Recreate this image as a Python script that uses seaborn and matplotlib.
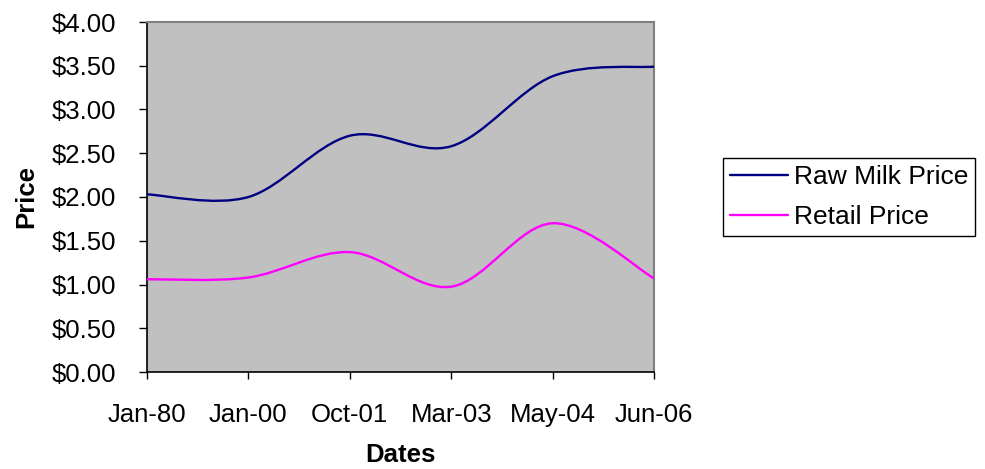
import matplotlib
matplotlib.use("Agg")
import matplotlib.pyplot as plt
from matplotlib.path import Path
from matplotlib.patches import PathPatch
from matplotlib.lines import Line2D
import seaborn as sns
import numpy as np
import pandas as pd

dates = ["Jan-80", "Jan-00", "Oct-01", "Mar-03", "May-04", "Jun-06"]
raw_milk = [2.03, 2.00, 2.70, 2.58, 3.38, 3.49]
retail = [1.06, 1.08, 1.37, 0.975, 1.70, 1.07]
series_names = ["Raw Milk Price", "Retail Price"]
colors = ["#000080", "#FF00FF"]

df = pd.DataFrame({
    "Dates": dates * 2,
    "Price": raw_milk + retail,
    "Series": [series_names[0]] * len(dates) + [series_names[1]] * len(dates),
})

sns.set_style("white")
plt.rcParams["font.family"] = ["Liberation Sans", "DejaVu Sans"]
plt.rcParams["text.color"] = "black"
plt.rcParams["axes.labelcolor"] = "black"
plt.rcParams["xtick.color"] = "black"
plt.rcParams["ytick.color"] = "black"


def smooth_path(xy):
    # Excel-like smoothed line: Catmull-Rom segments as cubic Beziers
    pts = np.vstack([xy[0], xy, xy[-1]])
    verts = [tuple(xy[0])]
    codes = [Path.MOVETO]
    for i in range(1, len(pts) - 2):
        p0, p1, p2, p3 = pts[i - 1], pts[i], pts[i + 1], pts[i + 2]
        c1 = p1 + (p2 - p0) / 6
        c2 = p2 - (p3 - p1) / 6
        verts += [tuple(c1), tuple(c2), tuple(p2)]
        codes += [Path.CURVE4] * 3
    return Path(verts, codes)


fig = plt.figure(figsize=(9.85, 4.69), dpi=100)
ax = fig.add_axes([147 / 985, 1 - 372 / 469, (654 - 147) / 985, 350 / 469])
ax.set_facecolor("#C0C0C0")

sns.lineplot(data=df, x="Dates", y="Price", hue="Series", palette=colors,
             sort=False, legend=False, ax=ax)

for line, c in zip(ax.get_lines(), colors):
    xy = line.get_xydata()
    ax.add_patch(PathPatch(smooth_path(xy), facecolor="none", edgecolor=c,
                           linewidth=1.7, zorder=3))
    line.set_visible(False)

ax.set_xlim(0, len(dates) - 1)
ax.set_ylim(0, 4)
ax.set_yticks(np.arange(0, 4.01, 0.5))
ax.set_yticklabels([f"${v:.2f}" for v in np.arange(0, 4.01, 0.5)])
ax.tick_params(axis="y", direction="out", length=6, width=1, pad=16,
               labelsize=18.5, left=True)
ax.tick_params(axis="x", direction="out", length=5, width=1, pad=17,
               labelsize=18.5, bottom=True)

for side in ["left", "bottom"]:
    ax.spines[side].set_color("black")
    ax.spines[side].set_linewidth(1.2)
for side in ["top", "right"]:
    ax.spines[side].set_color("#808080")
    ax.spines[side].set_linewidth(1.5)

ax.set_xlabel("Dates", fontsize=18.5, fontweight="bold", labelpad=12)
ax.set_ylabel("Price", fontsize=18.5, fontweight="bold", labelpad=10)

handles = [Line2D([], [], color=c, linewidth=1.7) for c in colors]
fig.legend(handles, series_names, loc="center left",
           bbox_to_anchor=(723 / 985, 1 - 197 / 469), fontsize=19,
           frameon=True, fancybox=False, edgecolor="black", framealpha=1,
           handlelength=2.2, handletextpad=0.25, borderpad=0.25,
           labelspacing=0.6, borderaxespad=0)

fig.savefig("out.png", dpi=100)
